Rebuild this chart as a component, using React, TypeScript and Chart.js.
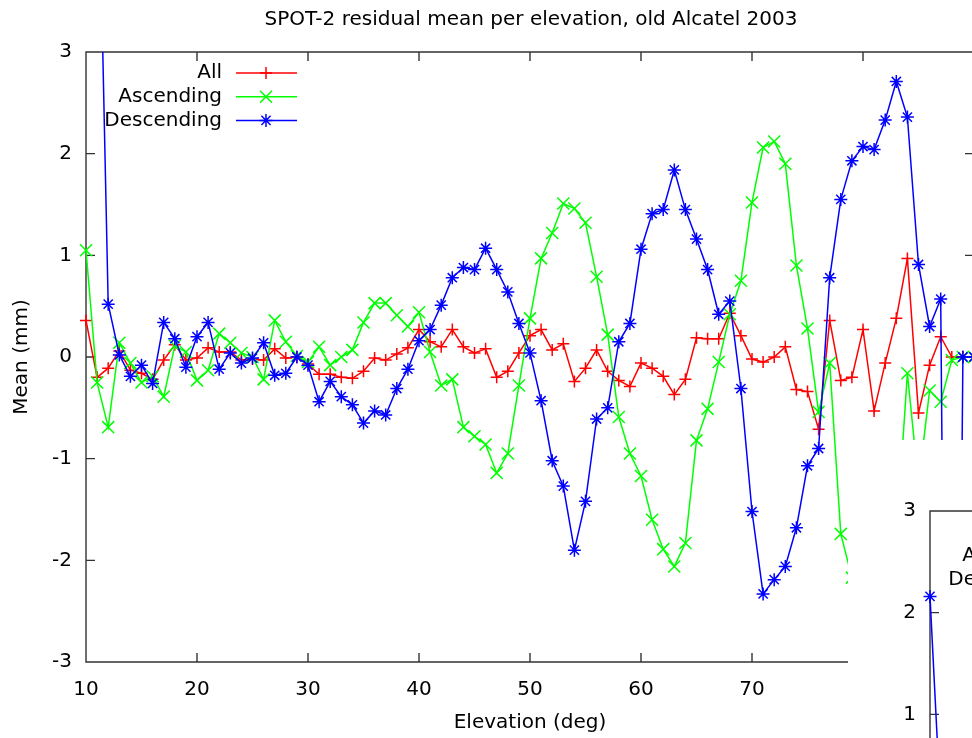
import React, { useEffect, useRef } from 'react';
import { Chart, registerables } from 'chart.js';

Chart.register(...registerables);

const TITLE = 'SPOT-2 residual mean per elevation, old Alcatel 2003';
const X_TITLE = 'Elevation (deg)';
const Y_TITLE = 'Mean (mm)';

const seriesLabels = ['All', 'Ascending', 'Descending'];
const seriesColors = ['#ff0000', '#00ff00', '#0000ff'];
const seriesMarkers = ['cross', 'crossRot', 'star'];
const markerRadius = [6, 8.5, 6.5];

const elevations = [
  10, 11, 12, 13, 14, 15, 16, 17, 18, 19,
  20, 21, 22, 23, 24, 25, 26, 27, 28, 29,
  30, 31, 32, 33, 34, 35, 36, 37, 38, 39,
  40, 41, 42, 43, 44, 45, 46, 47, 48, 49,
  50, 51, 52, 53, 54, 55, 56, 57, 58, 59,
  60, 61, 62, 63, 64, 65, 66, 67, 68, 69,
  70, 71, 72, 73, 74, 75, 76, 77, 78, 79,
  80, 81, 82, 83, 84, 85, 86, 87, 88, 89, 90,
];

const allMean = [
  0.36, -0.20, -0.11, 0.06, -0.13, -0.16, -0.22, -0.03, 0.12, -0.03,
  -0.01, 0.09, 0.05, 0.05, -0.03, -0.02, -0.03, 0.08, -0.01, 0.00,
  -0.07, -0.17, -0.17, -0.20, -0.21, -0.14, -0.01, -0.03, 0.03, 0.09,
  0.27, 0.15, 0.10, 0.27, 0.10, 0.04, 0.08, -0.20, -0.14, 0.04,
  0.21, 0.27, 0.07, 0.13, -0.24, -0.11, 0.07, -0.14, -0.23, -0.29,
  -0.06, -0.11, -0.19, -0.37, -0.22, 0.19, 0.18, 0.18, 0.43, 0.21,
  -0.02, -0.05, 0.00, 0.10, -0.32, -0.34, -0.71, 0.36, -0.23, -0.20,
  0.27, -0.53, -0.06, 0.38, 0.97, -0.55, -0.08, 0.20, 0.00, 0.00, 0.00,
];

const ascendingMean = [
  1.05, -0.25, -0.69, 0.14, -0.06, -0.25, -0.19, -0.39, 0.11, 0.05,
  -0.23, -0.13, 0.23, 0.14, 0.04, 0.00, -0.22, 0.36, 0.15, 0.01,
  -0.05, 0.10, -0.08, 0.00, 0.07, 0.34, 0.53, 0.53, 0.41, 0.30,
  0.44, 0.05, -0.28, -0.22, -0.69, -0.78, -0.86, -1.14, -0.95, -0.28,
  0.38, 0.97, 1.22, 1.51, 1.46, 1.32, 0.79, 0.22, -0.59, -0.95,
  -1.17, -1.60, -1.89, -2.06, -1.83, -0.82, -0.51, -0.05, 0.42, 0.75,
  1.52, 2.06, 2.12, 1.90, 0.90, 0.28, -0.54, -0.06, -1.74, -2.17,
  -2.40, -2.10, -1.90, -1.80, -0.16, -1.25, -0.33, -0.44, -0.03, 0.00, 0.00,
];

const descendingMean = [
  null, 5.6, 0.52, 0.02, -0.19, -0.08, -0.26, 0.34, 0.18, -0.10,
  0.20, 0.34, -0.12, 0.04, -0.06, -0.01, 0.14, -0.18, -0.16, 0.00,
  -0.08, -0.44, -0.24, -0.39, -0.47, -0.65, -0.53, -0.57, -0.31, -0.12,
  0.16, 0.27, 0.51, 0.78, 0.88, 0.86, 1.07, 0.86, 0.64, 0.33,
  0.04, -0.43, -1.02, -1.27, -1.90, -1.42, -0.61, -0.50, 0.15, 0.33,
  1.06, 1.41, 1.45, 1.84, 1.45, 1.16, 0.86, 0.42, 0.55, -0.31,
  -1.52, -2.33, -2.19, -2.06, -1.68, -1.07, -0.90, 0.78, 1.55, 1.93,
  2.07, 2.04, 2.33, 2.71, 2.36, 0.91, 0.30, 0.57, -12.0, 0.00, 0.00,
];

// second (overlapping) plot, only its top-left corner is in view
const insetElevations = [10, 11, 12, 13];
const insetAll = [0.20, -0.10, 0.00, 0.05];
const insetAscending = [0.40, -0.30, -0.10, 0.10];
const insetDescending = [2.16, 0.00, 0.10, 0.00];

const FONT = '"DejaVu Sans", "Noto Sans", sans-serif';

function drawMarker(ctx: CanvasRenderingContext2D, style: string, x: number, y: number, r: number) {
  ctx.beginPath();
  if (style === 'cross' || style === 'star') {
    ctx.moveTo(x - r, y);
    ctx.lineTo(x + r, y);
    ctx.moveTo(x, y - r);
    ctx.lineTo(x, y + r);
  }
  if (style === 'crossRot' || style === 'star') {
    const d = r * Math.SQRT1_2;
    ctx.moveTo(x - d, y - d);
    ctx.lineTo(x + d, y + d);
    ctx.moveTo(x - d, y + d);
    ctx.lineTo(x + d, y - d);
  }
  ctx.stroke();
}

const framePlugin = {
  id: 'gnuFrame',
  beforeDatasetsDraw(chart: any) {
    const { ctx, chartArea, scales } = chart;
    const { left, right, top, bottom } = chartArea;
    const tl = 9;
    ctx.save();
    ctx.strokeStyle = '#333';
    ctx.lineWidth = 1.4;
    ctx.beginPath();
    ctx.rect(left, top, right - left, bottom - top);
    scales.y.ticks.forEach((t: any) => {
      const py = scales.y.getPixelForValue(t.value);
      ctx.moveTo(left, py);
      ctx.lineTo(left + tl, py);
      ctx.moveTo(right, py);
      ctx.lineTo(right - tl, py);
    });
    scales.x.ticks.forEach((t: any) => {
      const px = scales.x.getPixelForValue(t.value);
      ctx.moveTo(px, bottom);
      ctx.lineTo(px, bottom - tl);
      ctx.moveTo(px, top);
      ctx.lineTo(px, top + tl);
    });
    ctx.stroke();
    ctx.restore();
  },
};

const legendPlugin = {
  id: 'gnuLegend',
  afterDatasetsDraw(chart: any) {
    const { ctx, chartArea } = chart;
    ctx.save();
    ctx.font = '20px ' + FONT;
    ctx.textAlign = 'right';
    ctx.textBaseline = 'middle';
    chart.data.datasets.forEach((ds: any, i: number) => {
      const cy = chartArea.top + 21 + i * 23.7;
      ctx.fillStyle = '#000';
      ctx.fillText(ds.label, chartArea.left + 136, cy);
      ctx.strokeStyle = ds.borderColor;
      ctx.lineWidth = 1.5;
      ctx.beginPath();
      ctx.moveTo(chartArea.left + 150, cy);
      ctx.lineTo(chartArea.left + 211, cy);
      ctx.stroke();
      drawMarker(ctx, ds.pointStyle, chartArea.left + 180, cy, ds.pointRadius);
    });
    ctx.restore();
  },
};

function makeDatasets(xs: number[], series: (number | null)[][]) {
  return series.map((vals, i) => ({
    label: seriesLabels[i],
    data: xs.map((x, j) => ({ x, y: vals[j] })),
    borderColor: seriesColors[i],
    backgroundColor: seriesColors[i],
    borderWidth: 1.5,
    pointStyle: seriesMarkers[i],
    pointRadius: markerRadius[i],
    pointBorderWidth: 1.5,
    pointBorderColor: seriesColors[i],
    pointBackgroundColor: seriesColors[i],
    tension: 0,
    spanGaps: false,
    order: 3 - i,
    yAxisID: 'y',
    clip: { left: 10, right: 0, top: 0, bottom: 0 },
  }));
}

function makeConfig(datasets: any[], opts: { title: boolean; yWidth: number; padTop: number }) {
  return {
    type: 'line' as const,
    data: { datasets },
    options: {
      animation: false as const,
      responsive: false,
      devicePixelRatio: 1,
      events: [],
      layout: { padding: { left: 0, right: 0, top: opts.padTop, bottom: 0 } },
      plugins: {
        legend: { display: false },
        tooltip: { enabled: false },
        title: {
          display: opts.title,
          text: TITLE,
          color: '#000',
          font: { family: FONT, size: 20, weight: 'normal' as const },
          padding: { top: 8, bottom: 20 },
        },
      },
      scales: {
        x: {
          type: 'linear' as const,
          min: 10,
          max: 90,
          ticks: { stepSize: 10, color: '#000', font: { family: FONT, size: 20 }, padding: 16, maxRotation: 0 },
          grid: { display: false, drawTicks: false },
          border: { display: false },
          title: {
            display: true,
            text: X_TITLE,
            color: '#000',
            font: { family: FONT, size: 20 },
            padding: { top: 0, bottom: 3 },
          },
          afterFit: (scale: any) => {
            scale.height = 76;
          },
        },
        y: {
          type: 'linear' as const,
          min: -3,
          max: 3,
          ticks: { stepSize: 1, color: '#000', font: { family: FONT, size: 20 }, padding: 14 },
          grid: { display: false, drawTicks: false },
          border: { display: false },
          title: {
            display: true,
            text: Y_TITLE,
            color: '#000',
            font: { family: FONT, size: 20 },
            padding: { top: 10, bottom: 0 },
          },
          afterFit: (scale: any) => {
            scale.width = opts.yWidth;
          },
        },
        yRightMargin: {
          type: 'linear' as const,
          position: 'right' as const,
          min: -3,
          max: 3,
          display: true,
          ticks: { display: false },
          grid: { display: false, drawTicks: false },
          border: { display: false },
          title: { display: false },
          afterFit: (scale: any) => {
            scale.width = 88;
          },
        },
      },
    },
    plugins: [framePlugin, legendPlugin],
  };
}

export default function App() {
  const mainRef = useRef<HTMLCanvasElement>(null);
  const insetRef = useRef<HTMLCanvasElement>(null);

  useEffect(() => {
    const main = new Chart(
      mainRef.current as HTMLCanvasElement,
      makeConfig(makeDatasets(elevations, [allMean, ascendingMean, descendingMean]), {
        title: true,
        yWidth: 86,
        padTop: 0,
      }) as any
    );
    const inset = new Chart(
      insetRef.current as HTMLCanvasElement,
      makeConfig(makeDatasets(insetElevations, [insetAll, insetAscending, insetDescending]), {
        title: false,
        yWidth: 82,
        padTop: 71,
      }) as any
    );
    return () => {
      main.destroy();
      inset.destroy();
    };
  }, []);

  return (
    <div
      style={{
        position: 'fixed',
        left: 0,
        top: 0,
        width: '100vw',
        height: '100vh',
        overflow: 'hidden',
        background: '#fff',
      }}
    >
      <canvas ref={mainRef} width={1062} height={738} style={{ position: 'absolute', left: 0, top: 0 }} />
      <div
        style={{
          position: 'absolute',
          left: 848,
          top: 440,
          width: 1058,
          height: 757,
          background: '#fff',
        }}
      >
        <canvas ref={insetRef} width={1058} height={757} style={{ position: 'absolute', left: 0, top: 0 }} />
      </div>
    </div>
  );
}
